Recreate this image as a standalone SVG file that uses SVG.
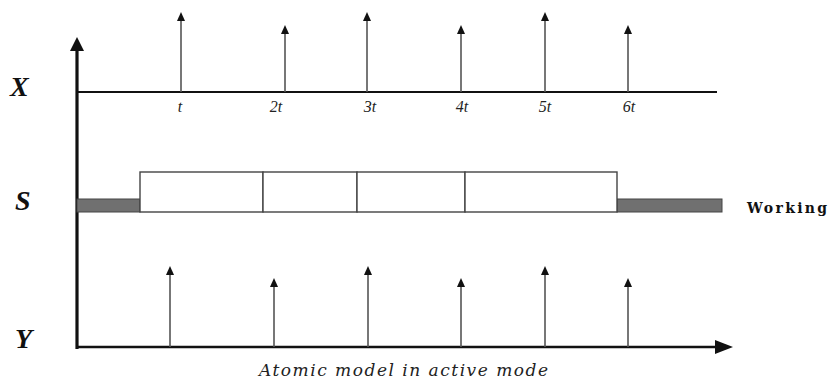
<svg xmlns="http://www.w3.org/2000/svg" width="829" height="380" viewBox="0 0 829 380">
<style>
.ev{stroke:#555;stroke-width:1.6;fill:none}
.hd{fill:#111}
.lbl{font-family:"Liberation Serif","DejaVu Serif",serif;font-style:italic;font-size:16px;fill:#222;text-anchor:middle}
.ax{font-family:"Liberation Serif","DejaVu Serif",serif;font-style:italic;font-weight:bold;font-size:28px;fill:#111}
.box{fill:#fff;stroke:#444;stroke-width:1.4}
.gray{fill:#707070;stroke:#444;stroke-width:1}
</style>
<rect width="829" height="380" fill="#fff"/>
<g id="axes">
<line x1="77" y1="48" x2="77" y2="349" stroke="#111" stroke-width="3.2"/>
<polygon points="70,51 77,37 84,51" class="hd"/>
<line x1="77" y1="347" x2="718" y2="347" stroke="#111" stroke-width="2.4"/>
<polygon points="715,340 733,347 715,354" class="hd"/>
<line x1="77" y1="92" x2="717" y2="92" stroke="#111" stroke-width="2"/>
</g>
<g id="labels">
<text class="ax" x="10" y="96">X</text>
<text class="ax" x="15" y="210">S</text>
<text class="ax" x="15" y="348">Y</text>
</g>
<g id="x-events">
<line class="ev" x1="181" y1="92" x2="181" y2="20"/><polygon class="hd" points="177,21 181,12 185,21"/>
<line class="ev" x1="285" y1="92" x2="285" y2="33"/><polygon class="hd" points="281,34 285,25 289,34"/>
<line class="ev" x1="367" y1="92" x2="367" y2="20"/><polygon class="hd" points="363,21 367,12 371,21"/>
<line class="ev" x1="461" y1="92" x2="461" y2="33"/><polygon class="hd" points="457,34 461,25 465,34"/>
<line class="ev" x1="545" y1="92" x2="545" y2="20"/><polygon class="hd" points="541,21 545,12 549,21"/>
<line class="ev" x1="628" y1="92" x2="628" y2="33"/><polygon class="hd" points="624,34 628,25 632,34"/>
<text class="lbl" x="180" y="112">t</text>
<text class="lbl" x="276" y="112">2t</text>
<text class="lbl" x="370" y="112">3t</text>
<text class="lbl" x="462" y="112">4t</text>
<text class="lbl" x="545" y="112">5t</text>
<text class="lbl" x="629" y="112">6t</text>
</g>
<g id="state">
<rect class="gray" x="77" y="199" width="63" height="13"/>
<rect class="gray" x="617" y="199" width="105" height="13"/>
<rect class="box" x="140" y="172" width="123" height="40"/>
<rect class="box" x="263" y="172" width="94" height="40"/>
<rect class="box" x="357" y="172" width="108" height="40"/>
<rect class="box" x="465" y="172" width="152" height="40"/>
<text x="747" y="213" font-family="'DejaVu Serif',serif" font-weight="bold" font-size="14" fill="#111" textLength="80" lengthAdjust="spacing">Working</text>
</g>
<g id="y-events">
<line class="ev" x1="170" y1="347" x2="170" y2="274"/><polygon class="hd" points="166,275 170,266 174,275"/>
<line class="ev" x1="274" y1="347" x2="274" y2="286"/><polygon class="hd" points="270,287 274,278 278,287"/>
<line class="ev" x1="368" y1="347" x2="368" y2="274"/><polygon class="hd" points="364,275 368,266 372,275"/>
<line class="ev" x1="461" y1="347" x2="461" y2="286"/><polygon class="hd" points="457,287 461,278 465,287"/>
<line class="ev" x1="545" y1="347" x2="545" y2="274"/><polygon class="hd" points="541,275 545,266 549,275"/>
<line class="ev" x1="628" y1="347" x2="628" y2="286"/><polygon class="hd" points="624,287 628,278 632,287"/>
</g>
<text x="259" y="376" font-family="'DejaVu Serif',serif" font-style="italic" font-size="17" fill="#222" textLength="289" lengthAdjust="spacing">Atomic model in active mode</text>
</svg>
